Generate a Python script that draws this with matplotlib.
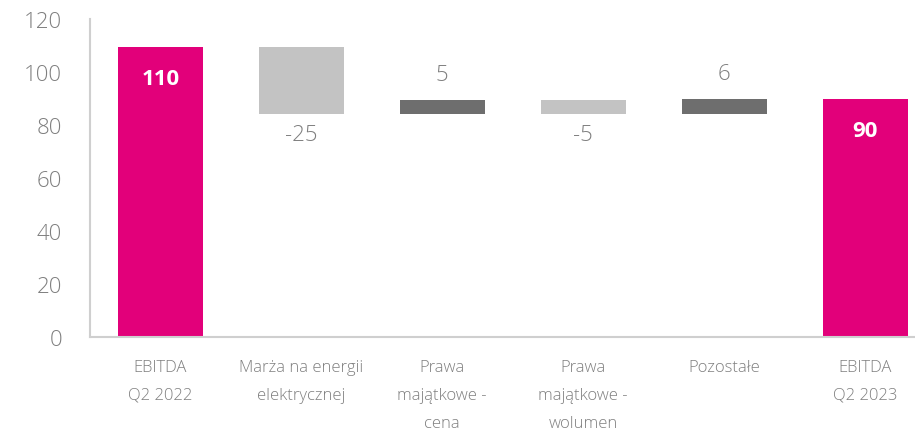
import matplotlib.pyplot as plt
import numpy as np

categories = ["EBITDA\nQ2 2022", "Marża na energii\nelektrycznej", "Prawa\nmajątkowe -\ncena",
              "Prawa\nmajątkowe -\nwolumen", "Pozostałe", "EBITDA\nQ2 2023"]
start_value = 109.6
changes = [-25.4, 5.3, -5.2, 5.5]
end_value = 89.8
value_labels = ["110", "-25", "5", "-5", "6", "90"]

MAGENTA = "#E2007A"
UP = "#6E6E6E"
DOWN = "#C3C3C3"
TEXT = "#7F7F7F"

plt.rcParams['font.family'] = ['Open Sans', 'DejaVu Sans']

fig = plt.figure(figsize=(9.15, 4.31), dpi=100)
ax = fig.add_axes([0.0981, 0.2165, 0.9246, 0.737])

x = np.arange(len(categories))
w = 0.6

# totals
ax.bar(x[0], start_value, width=w, color=MAGENTA)
ax.bar(x[-1], end_value, width=w, color=MAGENTA)

# changes
level = start_value
for i, d in enumerate(changes, start=1):
    bottom = level + min(d, 0)
    ax.bar(x[i], abs(d), bottom=bottom, width=w, color=UP if d > 0 else DOWN)
    off = 18 if d > 0 else -15
    ax.annotate(value_labels[i], (x[i], level + d), xytext=(0, off), textcoords='offset points',
                ha='center', va='center', fontsize=16, color=TEXT, fontweight='light')
    level += d

for xi, v, lab in [(x[0], start_value, value_labels[0]), (x[-1], end_value, value_labels[-1])]:
    ax.annotate(lab, (xi, v), xytext=(0, -23), textcoords='offset points',
                ha='center', va='center', fontsize=16, color='white', fontweight='bold')

ax.set_xlim(-0.5, len(categories) - 0.5)
ax.set_ylim(0, 120)
ax.set_yticks(range(0, 121, 20))
ax.set_xticks(x)
ax.set_xticklabels(categories, fontsize=12, color=TEXT, linespacing=2.0, fontweight='light')
for t in ax.get_yticklabels():
    t.set_fontweight('light')
ax.tick_params(axis='y', length=0, pad=20, labelsize=16, labelcolor=TEXT)
ax.tick_params(axis='x', length=0, pad=16)

for s in ['top', 'right']:
    ax.spines[s].set_visible(False)
ax.spines['left'].set_color('#CFCFCF')
ax.spines['bottom'].set_color('#CFCFCF')
ax.spines['left'].set_linewidth(1.5)
ax.spines['bottom'].set_linewidth(1.5)

fig.savefig('out.png', dpi=100)
